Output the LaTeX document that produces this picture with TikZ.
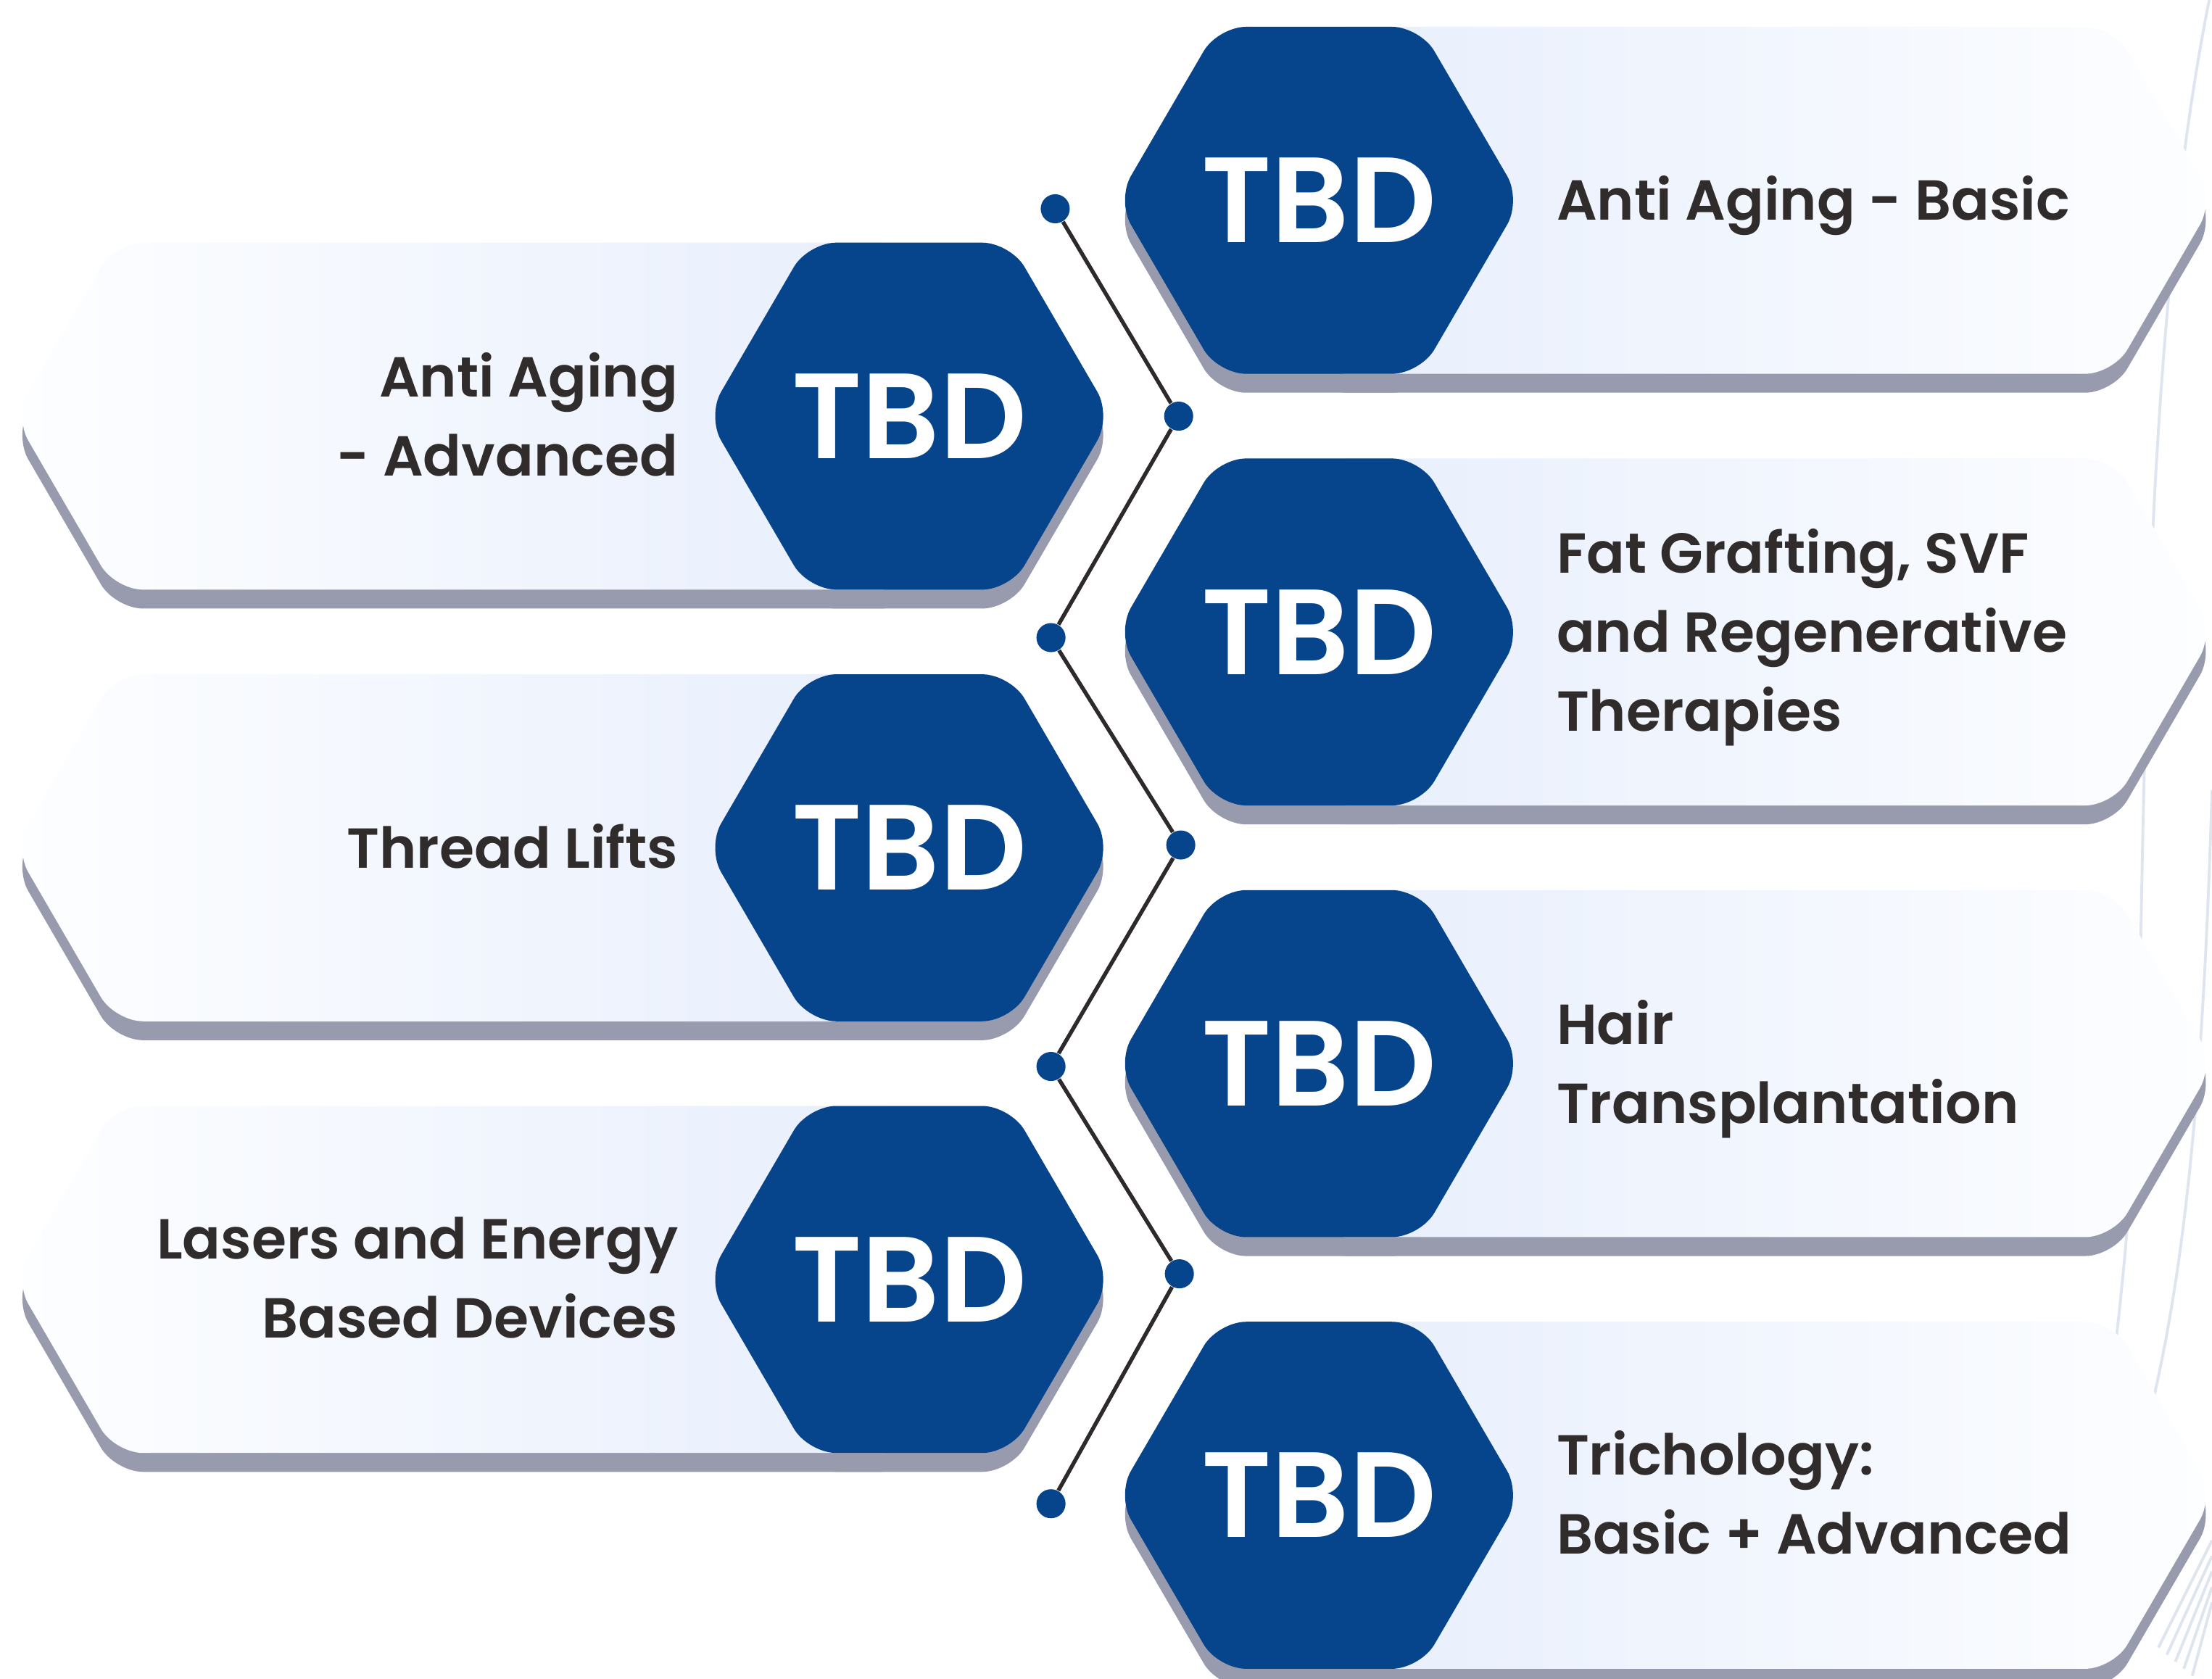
\documentclass[tikz,border=0pt]{standalone}
\usepackage{fontspec}
\setmainfont{Poppins}[UprightFont={* SemiBold}]

\definecolor{hexblue}{HTML}{06448C}
\definecolor{shadowgrey}{HTML}{989BAE}
\definecolor{panelblue}{HTML}{E7EEFC}
\definecolor{panelwhite}{HTML}{FDFEFF}
\definecolor{labeltext}{HTML}{312C2C}
\definecolor{linedark}{HTML}{2E2A2B}
\definecolor{decorline}{HTML}{DFE5EF}

\newcommand\hexshape{(-143.4,0) -- (-71.7,-123) -- (71.7,-123) -- (143.4,0) -- (71.7,123) -- (-71.7,123) -- cycle}
\newcommand\panelshape{(0,-123) -- (563,-123) -- (634.5,0) -- (563,123) -- (0,123) -- cycle}

\tikzset{
  tbd/.style={text=white, font=\fontsize{43}{43}\selectfont, inner sep=0pt},
  itemlabel/.style={text=labeltext, font=\fontsize{20}{28}\selectfont, inner sep=0pt},
  joint/.style={circle, fill=hexblue, minimum size=10.3pt, inner sep=0pt},
  linkline/.style={draw=linedark, line width=1.4pt},
  decor/.style={draw=decorline, line width=1pt}
}

\newcommand\card[5]{%
  \begin{scope}[shift={(#1,#2)}, xscale=#3]
    \fill[shadowgrey, rounded corners=10pt, shift={(0,13.4)}] \panelshape;
    \fill[shadowgrey, rounded corners=10pt, shift={(0,13.4)}] \hexshape;
    \shade[left color=#4, right color=#5, rounded corners=10pt] \panelshape;
    \fill[hexblue, rounded corners=10pt] \hexshape;
  \end{scope}}

\begin{document}
\begin{tikzpicture}[x=0.5pt,y=-0.5pt]
\useasboundingbox (0,0) rectangle (1568,1190);

\draw[decor] (1566,0) .. controls (1530,180) and (1522,420) .. (1518,640) .. controls (1515,800) and (1508,880) .. (1500,950);
\draw[decor] (1568,560) .. controls (1562,760) and (1550,900) .. (1522,1010);
\foreach \k in {0,...,4}
  \draw[decor] (1568,1092+11*\k) -- (1530+6*\k,1168+5*\k);

\foreach \cy in {142,448,754,1060}
  {\card{935}{\cy}{1}{panelblue}{panelwhite}}
\foreach \cy in {295,601,907}
  {\card{644.5}{\cy}{-1}{panelwhite}{panelblue}}

\foreach \i/\cy in {1/142,2/448,3/754,4/1060}
  \node[tbd] (hexR\i) at (935,\cy) {TBD};
\foreach \i/\cy in {1/295,2/601,3/907}
  \node[tbd] (hexL\i) at (644.5,\cy) {TBD};

\node[itemlabel, anchor=west, align=left] (labR1) at (1103,146) {Anti Aging - Basic};
\node[itemlabel, anchor=west, align=left] (labR2) at (1103,452) {Fat Grafting, SVF\\and Regenerative\\Therapies};
\node[itemlabel, anchor=west, align=left] (labR3) at (1103,758) {Hair\\Transplantation};
\node[itemlabel, anchor=west, align=left] (labR4) at (1103,1058) {Trichology:\\Basic + Advanced};
\node[itemlabel, anchor=east, align=right] (labL1) at (481,294) {Anti Aging\\- Advanced};
\node[itemlabel, anchor=east, align=right] (labL2) at (481,600) {Thread Lifts};
\node[itemlabel, anchor=east, align=right] (labL3) at (481,906) {Lasers and Energy\\Based Devices};

\node[joint] (j1) at (748,148) {};
\node[joint] (j2) at (835.5,295) {};
\node[joint] (j3) at (745,452) {};
\node[joint] (j4) at (837,599) {};
\node[joint] (j5) at (745,756) {};
\node[joint] (j6) at (836,903) {};
\node[joint] (j7) at (745,1066) {};
\draw[linkline] (j1) -- (j2) -- (j3) -- (j4) -- (j5) -- (j6) -- (j7);
\end{tikzpicture}
\end{document}
